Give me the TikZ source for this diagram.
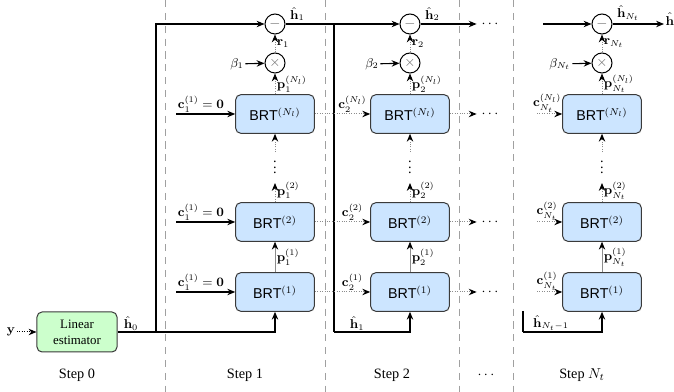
\documentclass[tikz,border=0pt]{standalone}
\usepackage[no-math]{fontspec}
\setmainfont{Liberation Serif}
\setsansfont{Liberation Sans}
\usepackage{xcolor}
\definecolor{brtfill}{HTML}{CCE5FF}
\definecolor{linfill}{HTML}{CCFFCC}
\definecolor{edge}{HTML}{3A3A3A}
\definecolor{guide}{HTML}{A0A0A0}
\definecolor{pgray}{HTML}{8C8C8C}
\usepackage{tikz}
\usetikzlibrary{arrows.meta,positioning,calc}

\begin{document}
\begin{tikzpicture}[
  x=0.7pt,y=-0.7pt,
  brt/.style={rectangle,rounded corners=3.5pt,draw=edge,fill=brtfill,line width=0.7pt,
    minimum width=55pt,minimum height=27pt,font=\sffamily},
  lin/.style={rectangle,rounded corners=3.5pt,draw=edge,fill=linfill,line width=0.7pt,
    minimum width=56pt,minimum height=28pt,align=center,font=\small,inner sep=1pt},
  op/.style={circle,draw=black,minimum size=14pt,inner sep=0pt,line width=0.7pt,text=black!60},
  lbl/.style={font=\small,inner sep=1pt,text=black},
  line/.style={black,line width=0.75pt},
  arr/.style={-{Stealth[length=5.5pt,width=4.5pt]},black,line width=0.75pt},
  parr/.style={-{Stealth[length=5.5pt,width=4.5pt,black]},pgray,densely dotted,line width=0.7pt},
  pline/.style={-{Stealth[length=5.5pt,width=4.5pt,black]},pgray,line width=0.5pt},
  dotin/.style={-{Stealth[length=5.5pt,width=4.5pt]},black,densely dotted,line width=0.7pt},
  guideline/.style={guide,dash pattern=on 5pt off 4pt,line width=0.6pt}]
  \useasboundingbox (0,0) rectangle (674,392);
  % step separators
  \draw[guideline] (165,0) -- (165,392);
  \draw[guideline] (325,0) -- (325,392);
  \draw[guideline] (459,0) -- (459,392);
  \draw[guideline] (513,0) -- (513,392);

  % step 0
  \node[lin] (lin) at (77,332) {Linear\\estimator};
  \node[lbl] (y) at (11,332) {$\mathbf{y}$};
  \draw[dotin] (y) -- (lin);

  % step 1
  \node[brt] (b11) at (275,292) {BRT$^{(1)}$};
  \node[brt] (b12) at (275,222) {BRT$^{(2)}$};
  \node[brt] (b1L) at (275,114) {BRT$^{(N_l)}$};
  \node[inner sep=0pt,anchor=base] (v1) at (275,174) {$\vdots$};
  \node[op] (m1) at (275,63) {$\times$};
  \node[op] (s1) at (275,24) {$-$};
  \node[lbl] (be1) at (237,64) {$\beta_1$};
  \coordinate (q1) at (275,183);
  \coordinate (c11) at (176,292);
  \coordinate (c12) at (176,222);
  \coordinate (c1L) at (176,114);

  % step 2
  \node[brt] (b21) at (410,292) {BRT$^{(1)}$};
  \node[brt] (b22) at (410,222) {BRT$^{(2)}$};
  \node[brt] (b2L) at (410,114) {BRT$^{(N_l)}$};
  \node[inner sep=0pt,anchor=base] (v2) at (410,174) {$\vdots$};
  \node[op] (m2) at (410,63) {$\times$};
  \node[op] (s2) at (410,24) {$-$};
  \node[lbl] (be2) at (372,64) {$\beta_2$};
  \coordinate (q2) at (410,183);

  % dots between steps
  \node (d0) at (490,24) {$\cdots$};
  \node (d2L) at (490,114) {$\cdots$};
  \node (d22) at (490,222) {$\cdots$};
  \node (d21) at (490,292) {$\cdots$};

  % step N_t
  \node[brt] (bN1) at (602,292) {BRT$^{(1)}$};
  \node[brt] (bN2) at (602,222) {BRT$^{(2)}$};
  \node[brt] (bNL) at (602,114) {BRT$^{(N_l)}$};
  \node[inner sep=0pt,anchor=base] (vN) at (602,174) {$\vdots$};
  \node[op] (mN) at (602,63) {$\times$};
  \node[op] (sN) at (602,24) {$-$};
  \node[lbl] (beN) at (560,64) {$\beta_{N_t}$};
  \node[lbl,anchor=west] (hout) at (664,19) {$\hat{\mathbf{h}}$};
  \coordinate (qN) at (602,183);
  \coordinate (tN) at (543,24);
  \coordinate (cN1) at (537,292);
  \coordinate (cN2) at (537,222);
  \coordinate (cNL) at (537,114);
  \coordinate (kN) at (523,311);
  \coordinate (jN) at (523,332);

  % h0 path
  \coordinate (j0) at (156,332);
  \draw[line] (lin) -- (j0);
  \draw[arr] (j0) |- (s1);
  \draw[arr] (j0) -| (b11);
  \node[lbl,above] (h0) at (131,332) {$\hat{\mathbf{h}}_0$};

  % step 1 connectors
  \draw[arr] (c11) -- node[lbl,above,pos=0.42] {$\mathbf{c}_1^{(1)}=\mathbf{0}$} (b11);
  \draw[arr] (c12) -- node[lbl,above,pos=0.42] {$\mathbf{c}_1^{(1)}=\mathbf{0}$} (b12);
  \draw[arr] (c1L) -- node[lbl,above,pos=0.42] {$\mathbf{c}_1^{(1)}=\mathbf{0}$} (b1L);
  \draw[pline] (b11) -- node[lbl,right] {$\mathbf{p}_1^{(1)}$} (b12);
  \draw[parr] (b12) -- (q1) node[lbl,right,pos=0.6] {$\mathbf{p}_1^{(2)}$};
  \draw[parr] (v1) -- (b1L);
  \draw[parr] (b1L) -- node[lbl,right] {$\mathbf{p}_1^{(N_l)}$} (m1);
  \draw[parr] (m1) -- node[lbl,right] {$\mathbf{r}_1$} (s1);
  \draw[arr] (be1) -- (m1);
  \draw[arr] (s1) -- (s2);
  \node[lbl,above right] (h1) at ([xshift=2pt,yshift=1pt]s1.east) {$\hat{\mathbf{h}}_1$};

  % h1 path into step 2
  \coordinate (t1) at (334,24);
  \coordinate (j1) at (334,332);
  \draw[line] (t1) -- (j1);
  \draw[arr] (j1) -| (b21);
  \node[lbl,above] (h1b) at (357,332) {$\hat{\mathbf{h}}_1$};

  % step 1 -> step 2
  \draw[parr] (b11) -- node[lbl,above,pos=0.68] {$\mathbf{c}_2^{(1)}$} (b21);
  \draw[parr] (b12) -- node[lbl,above,pos=0.68] {$\mathbf{c}_2^{(2)}$} (b22);
  \draw[parr] (b1L) -- node[lbl,above,pos=0.68] {$\mathbf{c}_2^{(N_l)}$} (b2L);

  % step 2 connectors
  \draw[pline] (b21) -- node[lbl,right] {$\mathbf{p}_2^{(1)}$} (b22);
  \draw[parr] (b22) -- (q2) node[lbl,right,pos=0.6] {$\mathbf{p}_2^{(2)}$};
  \draw[parr] (v2) -- (b2L);
  \draw[parr] (b2L) -- node[lbl,right] {$\mathbf{p}_2^{(N_l)}$} (m2);
  \draw[parr] (m2) -- node[lbl,right] {$\mathbf{r}_2$} (s2);
  \draw[arr] (be2) -- (m2);
  \draw[arr] (s2) -- (d0);
  \node[lbl,above right] (h2) at ([xshift=2pt,yshift=1pt]s2.east) {$\hat{\mathbf{h}}_2$};
  \draw[parr] (b21) -- (d21);
  \draw[parr] (b22) -- (d22);
  \draw[parr] (b2L) -- (d2L);

  % step N_t connectors
  \draw[arr] (tN) -- (sN);
  \draw[arr] (sN) -- (sN -| hout.west);
  \node[lbl,above right] (hN) at ([xshift=2pt,yshift=1pt]sN.east) {$\hat{\mathbf{h}}_{N_t}$};
  \draw[parr] (cN1) -- node[lbl,above,pos=0.4] {$\mathbf{c}_{N_t}^{(1)}$} (bN1);
  \draw[parr] (cN2) -- node[lbl,above,pos=0.4] {$\mathbf{c}_{N_t}^{(2)}$} (bN2);
  \draw[parr] (cNL) -- node[lbl,above,pos=0.4] {$\mathbf{c}_{N_t}^{(N_l)}$} (bNL);
  \draw[pline] (bN1) -- node[lbl,right] {$\mathbf{p}_{N_t}^{(1)}$} (bN2);
  \draw[parr] (bN2) -- (qN) node[lbl,right,pos=0.6] {$\mathbf{p}_{N_t}^{(2)}$};
  \draw[parr] (vN) -- (bNL);
  \draw[parr] (bNL) -- node[lbl,right] {$\mathbf{p}_{N_t}^{(N_l)}$} (mN);
  \draw[parr] (mN) -- node[lbl,right] {$\mathbf{r}_{N_t}$} (sN);
  \draw[arr] (beN) -- (mN);
  \draw[line] (kN) -- (jN);
  \draw[arr] (jN) -| (bN1);
  \node[lbl,above] (hNm) at (551,332) {$\hat{\mathbf{h}}_{N_t-1}$};

  % step captions
  \node (st0) at (77,375) {Step 0};
  \node (st1) at (245,375) {Step 1};
  \node (st2) at (392,375) {Step 2};
  \node (stx) at (486,375) {$\cdots$};
  \node (stN) at (582,375) {Step $N_t$};
\end{tikzpicture}
\end{document}
